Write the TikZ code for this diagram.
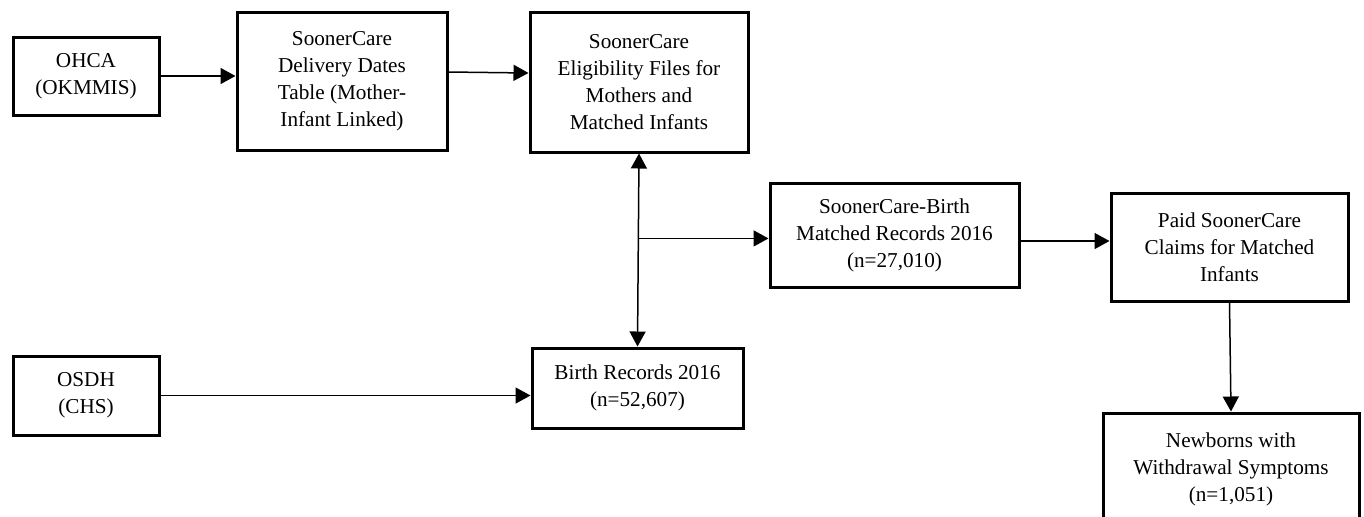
\documentclass[tikz,border=0pt]{standalone}
\usepackage{fontspec}
\setmainfont{Liberation Serif}
\usetikzlibrary{arrows.meta,calc}

\tikzset{
  box/.style={draw,line width=1.5pt,align=center,inner sep=2pt,font=\fontsize{10.6}{13.5}\selectfont},
  arr/.style={-{Triangle[length=7.5pt,width=8pt]},line width=0.75pt},
  arrboth/.style={{Triangle[length=7.5pt,width=8pt]}-{Triangle[length=7.5pt,width=8pt]},line width=0.75pt},
}

\begin{document}
\begin{tikzpicture}[x=0.5pt,y=-0.5pt]
\useasboundingbox (0,0) rectangle (1364,516);
\node[box,minimum width=73pt,minimum height=39pt] (ohca) at (86,76) {OHCA\\(OKMMIS)};
\node[box,minimum width=105pt,minimum height=69pt] (delivery) at (342,81) {SoonerCare\\Delivery Dates\\Table (Mother-\\Infant Linked)};
\node[box,minimum width=109pt,minimum height=70pt] (elig) at (639,82) {SoonerCare\\Eligibility Files for\\Mothers and\\Matched Infants};
\node[box,minimum width=124.5pt,minimum height=52pt] (matched) at (894.5,235) {SoonerCare-Birth\\Matched Records 2016\\(n=27,010)};
\node[box,minimum width=118.5pt,minimum height=54pt] (paid) at (1229.5,247) {Paid SoonerCare\\Claims for Matched\\Infants};
\node[box,minimum width=73pt,minimum height=39.5pt] (osdh) at (86,395.5) {OSDH\\(CHS)};
\node[box,minimum width=105.5pt,minimum height=40pt] (birth) at (637.5,388) {Birth Records 2016\\(n=52,607)};
\node[box,minimum width=128pt,minimum height=56pt] (newborns) at (1231,469) {Newborns with\\Withdrawal Symptoms\\(n=1,051)};
\coordinate (tap) at ($(elig.south)!0.44!(birth.north)$);
\draw[arr] (ohca.east) -- (ohca.east -| delivery.west);
\draw[arr] ([yshift=4.5pt]delivery.east) -- ([yshift=4.5pt]elig.west);
\draw[arrboth] (elig.south) -- (birth.north);
\draw[arr] (tap) -- (tap -| matched.west);
\draw[arr] ([yshift=-3pt]matched.east) -- ([yshift=3pt]paid.west);
\draw[arr] (paid.south) -- (newborns.north);
\draw[arr] (osdh.east) -- (osdh.east -| birth.west);
\end{tikzpicture}
\end{document}
